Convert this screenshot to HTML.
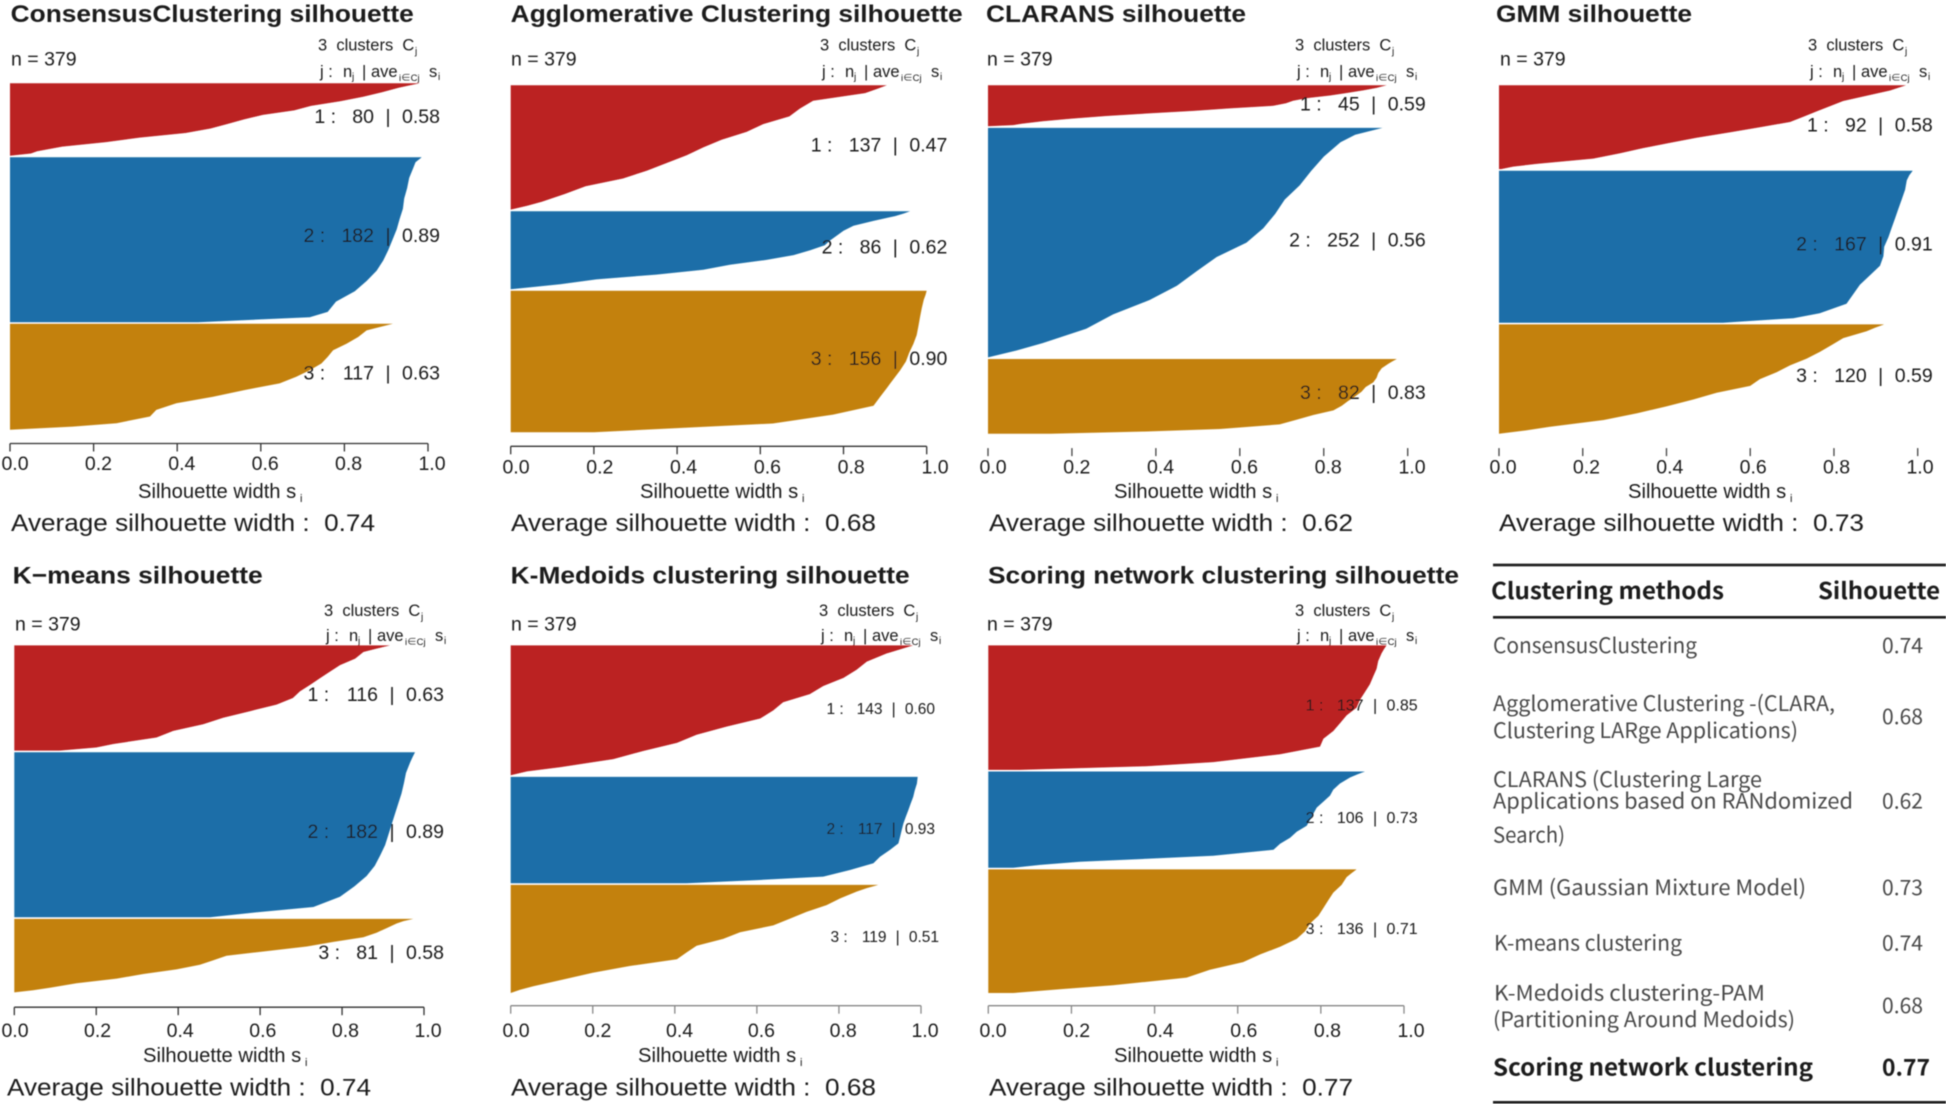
<!DOCTYPE html>
<html lang="en">
<head>
<meta charset="utf-8">
<title>Silhouette comparison of clustering methods</title>
<style>
html,body{margin:0;padding:0;background:#fff;}
body{width:1949px;height:1108px;overflow:hidden;}
svg{display:block;}
text{font-family:"Liberation Sans",Arial,sans-serif;fill:#1c1c1c;}
.cjk{font-family:"Liberation Sans","Noto Sans CJK SC",sans-serif;}
.tb{font-family:"Noto Sans CJK SC","Liberation Sans",sans-serif;font-size:21px;fill:#4a4a4a;font-weight:400;}
.tbb{font-family:"Noto Sans CJK SC","Liberation Sans",sans-serif;font-size:23px;fill:#1a1a1a;font-weight:700;}
</style>
</head>
<body>
<svg id="fig" xmlns="http://www.w3.org/2000/svg" width="1949" height="1108" viewBox="0 0 1949 1108">
<defs><filter id="soft" x="0" y="0" width="100%" height="100%"><feGaussianBlur stdDeviation="0.45"/></filter></defs>
<g id="root" filter="url(#soft)">
<g id="panels"></g>
<g id="summary-table">
<rect x="1493" y="563.7" width="453" height="2.6" fill="#1a1a1a"/>
<rect x="1493" y="616" width="453" height="2.6" fill="#1a1a1a"/>
<rect x="1493" y="1101" width="453" height="2.6" fill="#1a1a1a"/>
<text class="tbb" x="1491" y="599" textLength="233" lengthAdjust="spacingAndGlyphs">Clustering methods</text>
<text class="tbb" x="1818" y="599" textLength="122" lengthAdjust="spacingAndGlyphs">Silhouette</text>
<text class="tb" x="1493" y="653" textLength="204" lengthAdjust="spacingAndGlyphs">ConsensusClustering</text>
<text class="tb" x="1882" y="653" textLength="41" lengthAdjust="spacingAndGlyphs">0.74</text>
<text class="tb" x="1493" y="711" textLength="342" lengthAdjust="spacingAndGlyphs">Agglomerative Clustering -(CLARA,</text>
<text class="tb" x="1493" y="738" textLength="305" lengthAdjust="spacingAndGlyphs">Clustering LARge Applications)</text>
<text class="tb" x="1882" y="724" textLength="41" lengthAdjust="spacingAndGlyphs">0.68</text>
<text class="tb" x="1493" y="787" textLength="269" lengthAdjust="spacingAndGlyphs">CLARANS (Clustering Large</text>
<text class="tb" x="1493" y="808.5" textLength="360" lengthAdjust="spacingAndGlyphs">Applications based on RANdomized</text>
<text class="tb" x="1493" y="842.5" textLength="72" lengthAdjust="spacingAndGlyphs">Search)</text>
<text class="tb" x="1882" y="808.5" textLength="41" lengthAdjust="spacingAndGlyphs">0.62</text>
<text class="tb" x="1493" y="895" textLength="313" lengthAdjust="spacingAndGlyphs">GMM (Gaussian Mixture Model)</text>
<text class="tb" x="1882" y="895" textLength="41" lengthAdjust="spacingAndGlyphs">0.73</text>
<text class="tb" x="1494" y="950.5" textLength="188" lengthAdjust="spacingAndGlyphs">K-means clustering</text>
<text class="tb" x="1882" y="950.5" textLength="41" lengthAdjust="spacingAndGlyphs">0.74</text>
<text class="tb" x="1494" y="1000.5" textLength="271" lengthAdjust="spacingAndGlyphs">K-Medoids clustering-PAM</text>
<text class="tb" x="1493" y="1027" textLength="302" lengthAdjust="spacingAndGlyphs">(Partitioning Around Medoids)</text>
<text class="tb" x="1882" y="1013" textLength="41" lengthAdjust="spacingAndGlyphs">0.68</text>
<text class="tbb" x="1493" y="1075.5" textLength="320" lengthAdjust="spacingAndGlyphs">Scoring network clustering</text>
<text class="tbb" x="1882" y="1075.5" textLength="48" lengthAdjust="spacingAndGlyphs">0.77</text>
</g>
</g>
</svg>
<script>
// ---- chart data ----
const tickValues = [0, 0.2, 0.4, 0.6, 0.8, 1];
const tickLabels = ["0.0", "0.2", "0.4", "0.6", "0.8", "1.0"];
const clusterColors = ["#BB2023", "#1A6EA8", "#C3810F"];

// share of each cluster's members ranked above the sampled member
const rankShares = [0, .03, .0625, .125, .1875, .25, .3125, .375, .4375, .5, .5625, .625, .6875, .75, .8125, .875, .9375, .97, 1];

const panelTitles = ["ConsensusClustering silhouette", "Agglomerative Clustering silhouette", "CLARANS silhouette", "GMM silhouette", "K\u2212means silhouette", "K-Medoids clustering silhouette", "Scoring network clustering silhouette"];
const averageWidths = ["0.74", "0.68", "0.62", "0.73", "0.74", "0.68", "0.77"];

const consensusSizes = [80, 182, 117];
const consensusMeans = ["0.58", "0.89", "0.63"];
const consensusC1 = [.98,.956,.93,.89,.845,.79,.72,.68,.605,.56,.52,.48,.42,.31,.23,.125,.065,.05,0];
const consensusC2 = [.985,.97,.965,.955,.95,.943,.94,.932,.925,.915,.905,.893,.877,.853,.825,.78,.76,.717,.45];
const consensusC3 = [.916,.885,.853,.833,.805,.773,.76,.745,.717,.685,.645,.562,.486,.398,.35,.335,.255,.15,0];

const agglomerativeSizes = [137, 86, 156];
const agglomerativeMeans = ["0.47", "0.62", "0.90"];
const agglomerativeC1 = [.904,.88,.852,.727,.695,.67,.607,.567,.507,.463,.423,.375,.327,.27,.18,.13,.075,.04,0];
const agglomerativeC2 = [.96,.945,.924,.872,.824,.80,.784,.768,.755,.72,.68,.615,.527,.463,.35,.206,.119,.06,0];
const agglomerativeC3 = [1,.997,.993,.988,.984,.98,.976,.968,.958,.95,.936,.92,.904,.888,.872,.775,.63,.40,.2];

const claransSizes = [45, 252, 82];
const claransMeans = ["0.59", "0.56", "0.83"];
const claransC1 = [.95,.938,.926,.894,.855,.815,.76,.727,.71,.68,.576,.49,.378,.282,.2,.13,.08,.06,0];
const claransC2 = [.94,.875,.84,.80,.77,.743,.707,.684,.656,.616,.545,.497,.45,.385,.298,.234,.13,.068,0];
const claransC3 = [.974,.964,.954,.938,.93,.926,.918,.90,.89,.875,.858,.843,.823,.775,.735,.695,.553,.378,.147];

const gmmSizes = [92, 167, 120];
const gmmMeans = ["0.58", "0.91", "0.59"];
const gmmC1 = [.972,.954,.934,.878,.822,.79,.758,.727,.695,.623,.551,.472,.408,.344,.288,.225,.09,.034,.005];
const gmmC2 = [.988,.98,.974,.97,.962,.954,.946,.938,.93,.92,.918,.91,.886,.862,.846,.83,.766,.703,.535];
const gmmC3 = [.92,.898,.878,.822,.795,.767,.735,.695,.663,.623,.6,.52,.464,.4,.33,.25,.12,.065,0];

const kmeansSizes = [116, 182, 81];
const kmeansMeans = ["0.63", "0.89", "0.58"];
const kmeansC1 = [.917,.884,.852,.832,.795,.77,.746,.722,.697,.68,.64,.575,.51,.461,.388,.347,.242,.2,.11];
const kmeansC2 = [.978,.972,.966,.956,.951,.945,.937,.929,.921,.913,.905,.893,.88,.86,.83,.795,.73,.59,.478];
const kmeansC3 = [.974,.95,.933,.909,.884,.852,.779,.714,.616,.518,.486,.453,.396,.315,.25,.152,.087,.046,0];

const kmedoidsSizes = [143, 117, 119];
const kmedoidsMeans = ["0.60", "0.93", "0.51"];
const kmedoidsC1 = [.981,.95,.916,.868,.843,.811,.762,.729,.664,.64,.608,.526,.453,.405,.323,.25,.12,.04,0];
const kmedoidsC2 = [.992,.991,.99,.985,.981,.975,.969,.963,.957,.953,.949,.945,.924,.9,.884,.827,.762,.6,.429];
const kmedoidsC3 = [.896,.868,.843,.803,.77,.721,.68,.64,.559,.518,.453,.429,.405,.29,.2,.128,.055,.023,0];

const scoringSizes = [137, 106, 136];
const scoringMeans = ["0.85", "0.73", "0.71"];
const scoringC1 = [.958,.952,.946,.938,.934,.926,.918,.906,.894,.886,.862,.846,.83,.806,.798,.702,.541,.38,.076];
const scoringC2 = [.906,.888,.87,.846,.83,.822,.806,.79,.782,.774,.766,.742,.726,.702,.686,.541,.22,.125,.06];
const scoringC3 = [.886,.874,.862,.85,.83,.818,.806,.794,.774,.762,.742,.702,.654,.613,.533,.477,.3,.172,.06];

const seriesByPanel = [
  {key: "consensus", sizes: consensusSizes, means: consensusMeans, curves: [consensusC1, consensusC2, consensusC3]},
  {key: "agglomerative", sizes: agglomerativeSizes, means: agglomerativeMeans, curves: [agglomerativeC1, agglomerativeC2, agglomerativeC3]},
  {key: "clarans", sizes: claransSizes, means: claransMeans, curves: [claransC1, claransC2, claransC3]},
  {key: "gmm", sizes: gmmSizes, means: gmmMeans, curves: [gmmC1, gmmC2, gmmC3]},
  {key: "kmeans", sizes: kmeansSizes, means: kmeansMeans, curves: [kmeansC1, kmeansC2, kmeansC3]},
  {key: "kmedoids", sizes: kmedoidsSizes, means: kmedoidsMeans, curves: [kmedoidsC1, kmedoidsC2, kmedoidsC3]},
  {key: "scoring-network", sizes: scoringSizes, means: scoringMeans, curves: [scoringC1, scoringC2, scoringC3]}
];

// ---- page layout of each panel (not data) ----
const layouts = [
 {x0:10,x1:428,top:83.2,bottom:429.8,axisY:443.5,axisColor:"#333",tickBase:470,l0:15,l1:432,titleX:10.7,titleW:403,titleY:22,nX:11,nY:65.3,headX:318,headY:50.5,subY:76.8,xtX:138,xtY:498,avgX:11,avgY:531,avgW:364,fs:19.5,labelY:[122.8,242.1,379.7],rxs:[440,440,440]},
 {x0:510.7,x1:926.7,top:85.3,bottom:432.3,axisY:446.3,axisColor:"#333",tickBase:473.7,l0:516,l1:935,titleX:510.7,titleW:452,titleY:22,nX:511,nY:65.3,headX:820,headY:50.5,subY:76.8,xtX:640,xtY:498,avgX:511,avgY:531,avgW:365,fs:19.5,labelY:[151.6,253.7,364.9],rxs:[947.3,947.3,947.3]},
 {x0:988,x1:1407.7,top:85.3,bottom:433.7,axisY:448.1,axisColor:null,tickBase:473.7,l0:993,l1:1412,titleX:986,titleW:260,titleY:22,nX:987,nY:65.3,headX:1295,headY:50.5,subY:76.8,xtX:1114,xtY:498,avgX:989,avgY:531,avgW:364,fs:19.5,labelY:[110.5,246.3,398.9],rxs:[1425.7,1425.7,1425.7]},
 {x0:1499,x1:1917.7,top:85.3,bottom:433.7,axisY:448.1,axisColor:null,tickBase:473.7,l0:1503,l1:1920,titleX:1496,titleW:196,titleY:22,nX:1500,nY:65.3,headX:1808,headY:50.5,subY:76.8,xtX:1628,xtY:498,avgX:1499,avgY:531,avgW:365,fs:19.5,labelY:[131.6,250.5,382.1],rxs:[1932.7,1932.7,1932.7]},
 {x0:14.3,x1:424,top:645.4,bottom:992.4,axisY:1007.2,axisColor:"#333",tickBase:1037,l0:15,l1:428,titleX:12.7,titleW:250,titleY:583.3,nX:15,nY:630.6,headX:324,headY:615.9,subY:641.2,xtX:143,xtY:1062.2,avgX:7,avgY:1095.5,avgW:364,fs:19.5,labelY:[701.2,838,959],rxs:[444,444,444]},
 {x0:510.7,x1:921,top:645.4,bottom:993,axisY:1005.7,axisColor:"#888",tickBase:1037,l0:516,l1:925,titleX:510.7,titleW:399,titleY:583.3,nX:511,nY:630.6,headX:819,headY:615.9,subY:641.2,xtX:638,xtY:1062.2,avgX:511,avgY:1095.5,avgW:365,fs:15.5,labelY:[713.8,834.1,942.2],rxs:[935,935,939]},
 {x0:988.3,x1:1404,top:645.4,bottom:993,axisY:1005.7,axisColor:"#888",tickBase:1037,l0:993,l1:1411,titleX:988,titleW:471,titleY:583.3,nX:987,nY:630.6,headX:1295,headY:615.9,subY:641.2,xtX:1114,xtY:1062.2,avgX:989,avgY:1095.5,avgW:364,fs:16,labelY:[710.6,823,933.8],rxs:[1417.7,1417.7,1417.7]}
];

const NS = "http://www.w3.org/2000/svg";
const BAND_GAP = 1.6;

function mk(tag, parent, attrs, txt) {
  const el = document.createElementNS(NS, tag);
  for (const k in attrs) el.setAttribute(k, attrs[k]);
  if (txt !== undefined) el.textContent = txt;
  parent.appendChild(el);
  return el;
}
function xScale(lay, s) { return lay.x0 + (lay.x1 - lay.x0) * s; }
function labelScale(lay, s) { return lay.l0 + (lay.l1 - lay.l0) * s; }

const panelsRoot = document.getElementById("panels");

seriesByPanel.forEach(function (series, p) {
  const lay = layouts[p];
  const g = mk("g", panelsRoot, {});
  
  

  const title = mk("text", g, {x: lay.titleX, y: lay.titleY, "font-size": 24.5, "font-weight": 700, textLength: lay.titleW, lengthAdjust: "spacingAndGlyphs"}, panelTitles[p]);
  
  

  const nLabel = mk("text", g, {x: lay.nX, y: lay.nY, "font-size": 19.5}, "n = 379");
  
  

  const head = mk("text", g, {x: lay.headX, y: lay.headY, "font-size": 16.5, fill: "#333"}, "3\u00A0 clusters\u00A0 C");
  
  
  const headSub = mk("text", g, {x: lay.headX + 97, y: lay.headY + 4, "font-size": 10, fill: "#666"}, "j");
  
  

  const hx = lay.headX + 2, hy = lay.subY;
  const subParts = [["j :", 0, 16.5, 0], ["n", 23, 16.5, 0], ["j", 32, 10, 3], ["|", 42, 16.5, 0], ["ave", 51, 16.5, 0], ["i\u2208Cj", 79, 9.5, 4], ["s", 109, 16.5, 0], ["i", 118, 10, 3]];
  subParts.forEach(function (part) {
    const t = mk("text", g, {x: hx + part[1], y: hy + part[3], "font-size": part[2], fill: "#333", class: "cjk"}, part[0]);
    
    
  });

  // cluster bands positioned from cluster sizes
  const total = series.sizes.reduce(function (a, b) { return a + b; }, 0);
  const unit = (lay.bottom - lay.top - 2 * BAND_GAP) / total;
  let cursor = lay.top;
  series.curves.forEach(function (vals, c) {
    const h = series.sizes[c] * unit;
    const yOf = function (i) { return cursor + h * rankShares[i]; };
    let d = "M" + xScale(lay, 0).toFixed(1) + " " + cursor.toFixed(1);
    vals.forEach(function (v, i) {
      d += "L" + xScale(lay, v).toFixed(1) + " " + yOf(i).toFixed(1);
    });
    d += "L" + xScale(lay, 0).toFixed(1) + " " + (cursor + h).toFixed(1) + "Z";
    const area = mk("path", g, {d: d, fill: clusterColors[c]});
    
    
    cursor += h + BAND_GAP;
  });

  // cluster labels
  series.sizes.forEach(function (n, c) {
    const fs = lay.fs, rx = lay.rxs[c], y = lay.labelY[c], k = fs / 19.5;
    const nStr = String(n);
    const nEnd = rx - 66 * k;
    const nStart = nEnd - nStr.length * fs * 0.556;
    const jl = mk("text", g, {x: nStart - 38 * k, y: y, "font-size": fs}, (c + 1) + " :");
    
    
    const nl = mk("text", g, {x: nEnd, y: y, "font-size": fs, "text-anchor": "end"}, nStr);
    
    
    const bar = mk("text", g, {x: rx - 52 * k, y: y, "font-size": fs, "text-anchor": "middle"}, "|");
    
    
    const ml = mk("text", g, {x: rx, y: y, "font-size": fs, "text-anchor": "end"}, series.means[c]);
    
    
  });

  // x axis
  if (lay.axisColor) {
    const axis = mk("line", g, {x1: xScale(lay, 0), x2: xScale(lay, 1), y1: lay.axisY, y2: lay.axisY, stroke: lay.axisColor, "stroke-width": 1.3});
    
    
  }
  tickValues.forEach(function (v, i) {
    const tick = mk("line", g, {x1: xScale(lay, v), x2: xScale(lay, v), y1: lay.axisY, y2: lay.axisY + 8, stroke: lay.axisColor || "#444", "stroke-width": 1.3});
    
    
    const lbl = mk("text", g, {x: labelScale(lay, v), y: lay.tickBase, "font-size": 19.5, "text-anchor": "middle"}, tickLabels[i]);
    
    
  });

  const xt = mk("text", g, {x: lay.xtX, y: lay.xtY, "font-size": 20.2}, "Silhouette width s");
  
  
  const xts = mk("text", g, {x: lay.xtX + 162, y: lay.xtY + 4, "font-size": 11}, "i");
  
  

  const avg = mk("text", g, {x: lay.avgX, y: lay.avgY, "font-size": 24.5, textLength: lay.avgW, lengthAdjust: "spacingAndGlyphs"}, "Average silhouette width :\u00A0\u00A0" + averageWidths[p]);
  
  
});
</script>
</body>
</html>
